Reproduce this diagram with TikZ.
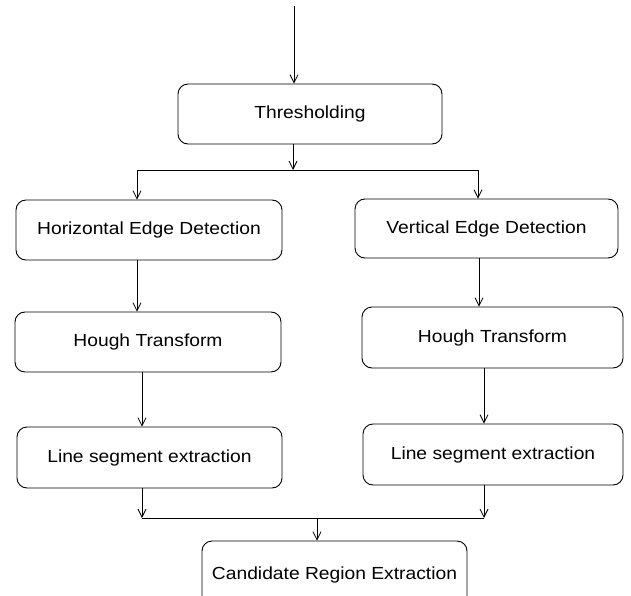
\documentclass[tikz,border=0pt]{standalone}
\usepackage{fontspec}
\setmainfont{Liberation Sans}[FakeStretch=1.1]
\usetikzlibrary{arrows.meta}
\begin{document}
\begin{tikzpicture}[x=1pt,y=-1pt,
  box/.style={draw=black,line width=0.9pt,rounded corners=10pt,inner sep=0pt,
    font=\fontsize{17.5}{19}\selectfont},
  arr/.style={line width=0.9pt,-{Straight Barb[length=8pt,width=8pt,line width=0.8pt]}},
  ln/.style={line width=0.9pt}]
\useasboundingbox (0,0) rectangle (631,596);
\clip (0,0) rectangle (631,596);
\fill[white] (0,0) rectangle (631,596);
% nodes
\node[box,minimum width=264pt,minimum height=60pt] (thr) at (310,114) {Thresholding};
\node[box,minimum width=266pt,minimum height=60pt] (hed) at (149,230) {Horizontal Edge Detection};
\node[box,minimum width=263pt,minimum height=59pt] (ved) at (486.5,228.5) {Vertical Edge Detection};
\node[box,minimum width=266pt,minimum height=60pt] (htl) at (148,342) {Hough Transform};
\node[box,minimum width=261pt,minimum height=61pt] (htr) at (492.5,337.5) {Hough Transform};
\node[box,minimum width=265pt,minimum height=61pt] (lsel) at (149.5,457.5) {Line segment extraction};
\node[box,minimum width=260pt,minimum height=61pt] (lser) at (493,454.5) {Line segment extraction};
\node[box,minimum width=265pt,minimum height=70pt,text depth=0pt] (cre) at (334.5,576) {\raisebox{6pt}{Candidate Region Extraction}};
% branch coordinates
\coordinate (top) at (294,6);
\coordinate (sp) at (293,170);
\coordinate (spl) at (137,170);
\coordinate (spr) at (478,170);
\coordinate (xl2) at (142,0);
\coordinate (xr1) at (479,0);
\coordinate (xr2) at (484,0);
\coordinate (mgl) at (142,518);
\coordinate (mgr) at (484,518);
\coordinate (mg) at (317,518);
% connectors
\draw[arr] (top) -- (top |- thr.north);
\draw[arr] (thr.south -| sp) -- (sp);
\draw[ln] (spl) -- (spr);
\draw[arr] (spl) -- (spl |- hed.north);
\draw[arr] (spr) -- (spr |- ved.north);
\draw[arr] (hed.south -| spl) -- (htl.north -| spl);
\draw[arr] (ved.south -| xr1) -- (htr.north -| xr1);
\draw[arr] (htl.south -| xl2) -- (lsel.north -| xl2);
\draw[arr] (htr.south -| xr2) -- (lser.north -| xr2);
\draw[arr] (lsel.south -| mgl) -- (mgl);
\draw[arr] (lser.south -| mgr) -- (mgr);
\draw[ln] (mgl) -- (mgr);
\draw[arr] (mg) -- (mg |- cre.north);
\end{tikzpicture}
\end{document}
